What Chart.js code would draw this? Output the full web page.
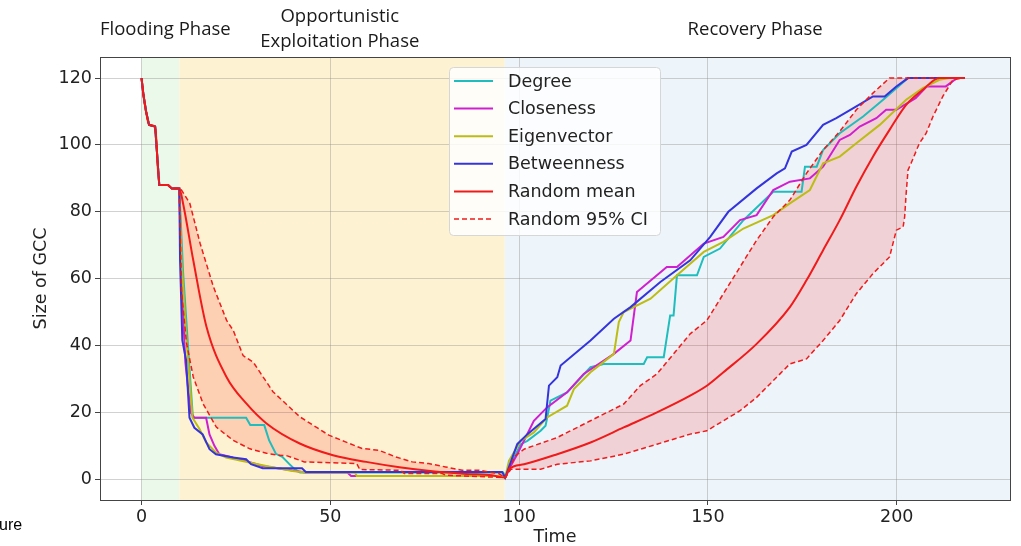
<!DOCTYPE html>
<html>
<head>
<meta charset="utf-8">
<script src="https://cdn.jsdelivr.net/npm/chart.js@4.4.1/dist/chart.umd.min.js"></script>
<style>
  html, body { margin: 0; padding: 0; background: #fff; }
  canvas { display: block; }
</style>
</head>
<body>
<canvas id="chart-gcc" width="1021" height="546"></canvas>
<script>
// common start (flooding phase), same for every strategy
const floodTime = [0, 0.5, 1.2, 2, 3.6, 4.7, 7, 8, 10];
const floodSize = [120, 115, 110, 106, 105.5, 88, 88, 87, 87];

const degreeTime = [11, 12.3, 13.6, 27.7, 28.8, 32.5, 33.8, 35.6, 37.4, 39.1, 40.5, 42, 95.8, 96.3,
  97.3, 100.4, 102.2, 105.7, 107, 108.3, 112.7, 118.9, 122.4, 133, 133.9, 138.3, 140, 140.9, 141.8, 147.1, 148.9,
  153.2, 159.4, 167.3, 174.8, 175.7, 178.8, 180.5, 184.9, 191.1, 196.4, 203, 218];
const degreeSize = [62, 40, 18.4, 18.4, 16.2, 16.2, 11.6, 7.6, 6.6, 4.6, 3.1, 2, 2, 0.5,
  3.5, 10.5, 11.5, 14.5, 16, 23.5, 26, 33.5, 34.5, 34.5, 36.5, 36.5, 49, 49, 61, 61, 66.5,
  69, 77.5, 86, 86, 93.5, 93.5, 98.5, 103.5, 108.5, 113.5, 120, 120];

const closenessTime = [10.6, 11.6, 13, 14, 17.1, 18, 19.3, 20.6, 24.2, 27.5, 32.1, 40.9, 43.5, 54.5, 55.5, 95.8, 96.3,
  97.3, 99.5, 103.9, 107.4, 112.7, 117.1, 125.1, 129.5, 131.2, 139.1, 141.8, 148.9, 154.1, 158.5, 162.9, 167.3,
  171.7, 177, 180.5, 184.9, 187.6, 190.2, 194.6, 197.2, 199.9, 205, 208, 213, 216, 218];
const closenessSize = [60, 35, 20, 18.4, 18.4, 13.4, 10, 7.5, 6.5, 5.5, 4, 2.5, 2, 2, 1, 1, 0.5,
  3, 7.5, 17.5, 21.5, 26, 31.5, 37.5, 41.5, 56, 63.5, 63.5, 70.5, 72.5, 77.5, 79, 86.5,
  89, 90, 93.5, 101.5, 103, 105.5, 108, 110.5, 110.5, 114, 117.5, 117.5, 120, 120];

const eigenTime = [10.6, 12, 13.5, 15.4, 17.1, 19.7, 22.4, 28.6, 33, 40, 43.5, 56.5, 57, 95.8, 96.3,
  97.3, 100.4, 103.9, 107.4, 112.7, 114.5, 118.9, 125.1, 126.4, 127.7, 134.8, 141.8, 148.9, 154.1, 159.4,
  167.3, 171.7, 177, 180.5, 184.9, 189.3, 195.5, 202.5, 206.9, 211.3, 214, 218];
const eigenSize = [65, 40, 18.4, 15, 11, 8, 6.5, 5, 4, 2.5, 2, 2, 1, 1, 0.5,
  5.5, 11.5, 14, 18.5, 22, 27, 32, 37.5, 47, 50, 54, 61, 68, 71, 75,
  79, 82.5, 86.5, 94.5, 96.5, 100.5, 106, 113.5, 117, 119.5, 120, 120];

const betweenTime = [10.2, 10.8, 11.8, 12.7, 14, 16.2, 18, 19.7, 24.2, 27.7, 29, 32.1, 42.5, 43.5, 95.5, 96.3,
  99.5, 102.2, 107, 107.9, 110.1, 111, 118.9, 125.1, 129.5, 137.4, 145.3, 150.6, 155.4, 162.9, 168.2, 170.4,
  172.2, 176.1, 180.5, 184, 189.3, 193.7, 196.8, 199.9, 203, 218];
const betweenSize = [65.5, 41.6, 35.6, 18.4, 15.4, 13.4, 9, 7.5, 6.5, 6, 4.5, 3.3, 3.3, 2.2, 2.2, 0.5,
  10.5, 13.5, 18, 28, 30.5, 34, 41.5, 48, 51.5, 59, 65.5, 72.5, 80, 87, 91.5, 93,
  98, 100, 106, 108, 111.5, 114.5, 114.5, 117.5, 120, 120];

const meanTime = [11, 13.7, 17.2, 22.5, 27.8, 33.1, 41.9, 50.7, 59.5, 68.3, 77.1, 86, 92.8, 96.3,
  97.3, 101.3, 110.1, 118.9, 127.7, 136.5, 145.3, 150, 154.1, 162.9, 171.7, 176.1, 180.5, 184.9, 189.3,
  193.7, 198.1, 202.5, 206.9, 211.3, 218];
const meanSize = [82.5, 65.5, 45.6, 30.6, 22.6, 16.7, 10.7, 7.2, 5.2, 3.6, 2.4, 1.6, 1.2, 0.5,
  3, 4.5, 7.5, 11, 15.5, 20, 25, 28.2, 32, 40.5, 51.5, 59.5, 68.5, 77.5, 87.5,
  96.5, 104.5, 112, 116.5, 120, 120];

const ciUpperTime = [10.3, 12.8, 15.5, 19, 22.5, 24.3, 26.9, 29.6, 34.8, 41.9, 49.6, 54, 58.4, 62.8, 67.3,
  71.7, 76, 80.5, 84.9, 89.3, 94.6, 96.3,
  97.3, 99, 101.3, 110.1, 118.9, 127.7, 132.1, 136.5, 140.9, 145.3, 149.7, 154.1, 158.5, 162.9, 167.3,
  171.7, 176.1, 180.5, 184.9, 189.3, 193.7, 198.1, 218];
const ciUpperSize = [87, 82.5, 70.6, 57.7, 47.6, 44.5, 37, 35, 26.2, 18.7, 13.2, 11.2, 9.2, 8.7, 6.7,
  5.2, 4.7, 3.7, 2.7, 2.7, 1.7, 0.5,
  3, 7, 9, 12.5, 17.5, 22.5, 28, 31.5, 37.5, 43.5, 47.5, 55.5, 63.5, 71.5, 78.5,
  83.5, 91.5, 98.5, 104, 110.5, 115.5, 120, 120];

const ciLowerTime = [10.6, 11.9, 13.7, 16.3, 19.8, 24.3, 28.7, 33.1, 36.1, 38.6, 43.1, 57, 57.8, 68.6, 69.6,
  79.6, 80.6, 96.3,
  97.8, 105.7, 110.1, 118.9, 127.7, 136.5, 145.3, 149.7, 154.1, 158.5, 162.9, 167.3, 171.7, 176.1, 180.5,
  184.9, 189.3, 193.7, 198.1, 199.9, 201.7, 202.1, 202.5, 203, 203.8, 206, 207.8, 209.6, 212.2, 214.9, 217.5, 218];
const ciLowerSize = [55.9, 40.8, 30.6, 22.6, 15.6, 11.6, 9.1, 7.8, 7.2, 7, 5.2, 4.7, 2.9, 2.7, 1.7,
  1.7, 1.2, 0.5,
  3, 3, 4.5, 5.5, 7.5, 10.5, 13.5, 14.5, 17.5, 20.5, 24.5, 29.5, 34.5, 36, 41.5,
  47.5, 55.5, 61.5, 66.5, 74.5, 75.5, 78.5, 85.5, 92.5, 94.5, 100.5, 103.5, 108.5, 114.5, 119.5, 120, 120];

const xTicks = [0, 50, 100, 150, 200];
const yTicks = [0, 20, 40, 60, 80, 100, 120];

const phaseNames = [['Flooding Phase'], ['Opportunistic', 'Exploitation Phase'], ['Recovery Phase']];
const phaseStart = [0, 10, 96.2];
const phaseEnd = [10, 96.2, 230];
const phaseLabelTime = [6.3, 52.5, 162.5];
const phaseColors = ['#ebf9ea', '#fdf3d2', '#eef5fa'];

function toPoints(times, sizes) {
  const pts = floodTime.map((t, i) => ({ x: t, y: floodSize[i] }));
  times.forEach((t, i) => pts.push({ x: t, y: sizes[i] }));
  return pts;
}

function lineSet(label, times, sizes, color, order) {
  return {
    label: label,
    data: toPoints(times, sizes),
    borderColor: color,
    borderWidth: 2,
    pointRadius: 0,
    fill: false,
    order: order
  };
}

const RED = '#f01a1a';

// fondos de fase + etiquetas encima del grafico
const phasePlugin = {
  id: 'phases',
  beforeDraw(chart) {
    const { ctx, chartArea: a, scales: { x } } = chart;
    ctx.save();
    phaseStart.forEach((s, i) => {
      const x0 = Math.max(a.left, x.getPixelForValue(s));
      const x1 = Math.min(a.right, x.getPixelForValue(phaseEnd[i]));
      ctx.fillStyle = phaseColors[i];
      ctx.fillRect(x0, a.top, x1 - x0, a.bottom - a.top);
    });
    ctx.restore();
  },
  afterDraw(chart) {
    const { ctx, scales: { x } } = chart;
    ctx.save();
    ctx.fillStyle = '#1a1a1a';
    ctx.font = '18.5px "Open Sans"';
    ctx.textAlign = 'center';
    ctx.textBaseline = 'alphabetic';
    phaseNames.forEach((lines, i) => {
      const px = x.getPixelForValue(phaseLabelTime[i]);
      const y0 = lines.length > 1 ? 22 : 35;
      lines.forEach((txt, j) => ctx.fillText(txt, px, y0 + j * 25));
    });
    // trozo de pie de figura recortado
    ctx.textAlign = 'left';
    ctx.font = '16px "Liberation Sans"';
    ctx.fillStyle = '#000';
    ctx.fillText('ure', -1, 530);
    ctx.restore();
  }
};

// marco completo + leyenda dentro del area
const framePlugin = {
  id: 'frame',
  afterDatasetsDraw(chart) {
    const { ctx, chartArea: a } = chart;
    ctx.save();
    ctx.strokeStyle = '#444';
    ctx.lineWidth = 1;
    ctx.strokeRect(Math.round(a.left) + 0.5, Math.round(a.top) + 0.5,
      Math.round(a.right - a.left), Math.round(a.bottom - a.top));

    const bx = 449, by = 67, bw = 211, bh = 168;
    ctx.beginPath();
    ctx.roundRect(bx + 0.5, by + 0.5, bw, bh, 4);
    ctx.fillStyle = 'rgba(255,255,255,0.82)';
    ctx.fill();
    ctx.strokeStyle = '#d6d6d6';
    ctx.stroke();

    ctx.font = '17.5px "DejaVu Sans"';
    ctx.textBaseline = 'middle';
    ctx.textAlign = 'left';
    let row = 0;
    chart.data.datasets.forEach(ds => {
      if (ds.showInLegend === false) return;
      const y = by + 14 + row * 27.6;
      ctx.beginPath();
      ctx.setLineDash(ds.borderDash || []);
      ctx.strokeStyle = ds.borderColor;
      ctx.lineWidth = ds.borderWidth;
      ctx.moveTo(454, y);
      ctx.lineTo(493, y);
      ctx.stroke();
      ctx.setLineDash([]);
      ctx.fillStyle = '#222';
      ctx.fillText(ds.label, 508, y + 1);
      row++;
    });
    ctx.restore();
  }
};

Chart.defaults.font.family = '"DejaVu Sans"';
Chart.defaults.color = '#222';

const meanSet = lineSet('Random mean', meanTime, meanSize, RED, 1);
meanSet.cubicInterpolationMode = 'monotone';

new Chart(document.getElementById('chart-gcc').getContext('2d'), {
  type: 'line',
  data: {
    datasets: [
      lineSet('Degree', degreeTime, degreeSize, '#1fbdbd', 6),
      lineSet('Closeness', closenessTime, closenessSize, '#d01fd0', 5),
      lineSet('Eigenvector', eigenTime, eigenSize, '#bcbc14', 4),
      lineSet('Betweenness', betweenTime, betweenSize, '#3434dc', 3),
      meanSet,
      {
        label: 'Random 95% CI',
        data: toPoints(ciUpperTime, ciUpperSize),
        borderColor: RED,
        borderWidth: 1.5,
        borderDash: [5, 3],
        pointRadius: 0,
        fill: '+1',
        backgroundColor: 'rgba(255,0,0,0.14)',
        order: 2
      },
      {
        label: 'Random 95% CI (low)',
        data: toPoints(ciLowerTime, ciLowerSize),
        borderColor: RED,
        borderWidth: 1.5,
        borderDash: [5, 3],
        pointRadius: 0,
        fill: false,
        order: 2,
        showInLegend: false
      }
    ]
  },
  options: {
    responsive: false,
    devicePixelRatio: 1,
    animation: false,
    layout: { padding: { top: 57, right: 11, left: 0, bottom: 0 } },
    plugins: {
      legend: { display: false },
      tooltip: { enabled: false },
      filler: { propagate: false, drawTime: 'beforeDatasetsDraw' }
    },
    scales: {
      x: {
        type: 'linear',
        min: -11,
        max: 230,
        afterBuildTicks: s => { s.ticks = xTicks.map(v => ({ value: v })); },
        afterFit: s => { s.height = 46; },
        grid: { color: 'rgba(140,140,140,0.4)', tickColor: '#444', tickLength: 5 },
        border: { display: false },
        ticks: { font: { size: 17.5 }, padding: 2, maxRotation: 0, color: '#222' },
        title: { display: true, text: 'Time', font: { size: 17.5, lineHeight: 1 }, padding: 0, color: '#222' }
      },
      y: {
        min: -6.2,
        max: 126.3,
        afterBuildTicks: s => { s.ticks = yTicks.map(v => ({ value: v })); },
        afterFit: s => { s.width = 100; },
        grid: { color: 'rgba(140,140,140,0.4)', tickColor: '#444', tickLength: 5 },
        border: { display: false },
        ticks: { font: { size: 17.5 }, padding: 3, color: '#222' },
        title: { display: true, text: 'Size of GCC', font: { size: 17.5 }, padding: { top: 31, bottom: 0 }, color: '#222' }
      }
    }
  },
  plugins: [phasePlugin, framePlugin]
});
</script>
</body>
</html>
